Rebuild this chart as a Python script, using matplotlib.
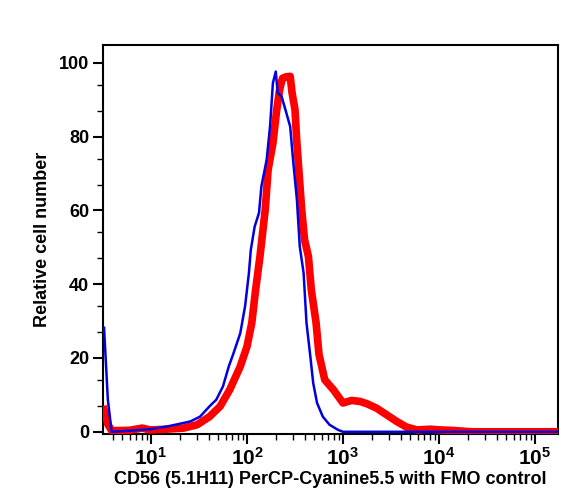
import matplotlib
matplotlib.use('Agg')
import matplotlib.pyplot as plt
import numpy as np
from matplotlib.ticker import FixedLocator, LogLocator, NullFormatter, FuncFormatter

plt.rcParams['font.family'] = ['Liberation Sans', 'DejaVu Sans']
plt.rcParams['font.weight'] = 'bold'
plt.rcParams['mathtext.fontset'] = 'custom'
plt.rcParams['mathtext.rm'] = 'Liberation Sans:bold'
plt.rcParams['mathtext.bf'] = 'Liberation Sans:bold'

# FMO control (blue)
fmo_x = [3.24, 3.55, 3.89, 6.0, 9.8, 14.5, 21.9, 25.7, 32.4, 40.7, 47.9, 56.2, 64.6,
         72.4, 85.1, 95.5, 104.7, 109.6, 120.2, 133.4, 141.3, 160.3, 173.8, 186.2,
         199.5, 208.9, 229.1, 257, 281.8, 302, 331.1, 354.8, 389, 416.9, 457.1,
         489.8, 537, 616.6, 724.4, 891, 1000, 174000]
fmo_y = [28.2, 8.7, 0.0, 0.3, 0.7, 1.4, 2.4, 2.8, 4.1, 6.9, 8.7, 12.3, 17.7,
         21.3, 26.7, 34.0, 43.0, 49.3, 55.6, 59.3, 66.5, 73.7, 82.7, 94.5,
         97.6, 91.8, 90.9, 86.4, 82.7, 73.7, 62.9, 50.2, 43.0, 29.5, 20.4,
         13.2, 7.8, 4.1, 1.9, 0.5, 0.0, 0.0]

# CD56 stained (red)
cd56_x = [3.24, 3.55, 3.89, 6.0, 8.1, 9.8, 14.5, 21.9, 30.2, 40.7, 52.5, 66.1, 85.1,
          100, 112.2, 123, 136.5, 154.9, 166, 186.2, 204.2, 218.8, 234.4, 257,
          281.8, 295.1, 316.2, 331.1, 350.8, 371.5, 398.1, 436.5, 467.7, 524.8,
          562.3, 645.7, 794.3, 1000, 1230, 1514, 1778, 2239, 2851, 3631, 4571,
          5888, 8128, 10230, 14130, 22000, 174000]
cd56_y = [6.0, 2.0, 0.3, 0.4, 1.0, 0.5, 0.7, 1.0, 1.9, 4.1, 6.9, 11.4, 17.7,
          23.1, 29.5, 38.5, 47.5, 60.2, 71.0, 78.2, 87.3, 92.7, 95.8, 96.2,
          96.3, 91.8, 87.3, 78.2, 69.2, 60.2, 52.0, 47.5, 38.5, 29.5,
          21.0, 14.1, 11.4, 7.8, 8.5, 8.2, 7.6, 6.4, 4.6, 2.8, 1.3,
          0.5, 0.7, 0.5, 0.35, 0.0, 0.0]

y_ticks = [0, 20, 40, 60, 80, 100]
x_ticks = [10, 100, 1000, 10000, 100000]

fig = plt.figure(figsize=(5.78, 5.04), dpi=100)
ax = fig.add_axes([103/578, 1-434/504, 455/578, 389/504])

ax.plot(cd56_x, cd56_y, color='#ff0000', lw=5.5, solid_joinstyle='round', zorder=3)
ax.plot(fmo_x, fmo_y, color='#0000e0', lw=1.8, zorder=4)

ax.set_xscale('log')
ax.set_xlim(3.16, 174000)
ax.set_ylim(-0.6, 104.8)

ax.xaxis.set_major_locator(FixedLocator(x_ticks))
ax.xaxis.set_minor_locator(LogLocator(base=10, subs=np.arange(2, 10)))
ax.xaxis.set_minor_formatter(NullFormatter())
ax.xaxis.set_major_formatter(FuncFormatter(lambda v, p: r'$\mathbf{10^{%d}}$' % round(np.log10(v))))

ax.set_yticks(y_ticks)
ax.set_yticks([7, 14, 27, 34, 47, 54, 67, 74, 87, 94], minor=True)

ax.tick_params(axis='both', which='major', direction='out', length=7, width=1.5,
               labelsize=13, pad=3)
ax.tick_params(axis='both', which='minor', direction='out', length=4, width=1)
ax.tick_params(axis='x', which='major', labelsize=15, pad=2)
for s in ax.spines.values():
    s.set_linewidth(1.5)

ax.set_xlabel('CD56 (5.1H11) PerCP-Cyanine5.5 with FMO control', fontsize=13,
              fontweight='bold', labelpad=2)
ax.set_ylabel('Relative cell number', fontsize=13, fontweight='bold', labelpad=6)

fig.savefig('out.png', dpi=100)
